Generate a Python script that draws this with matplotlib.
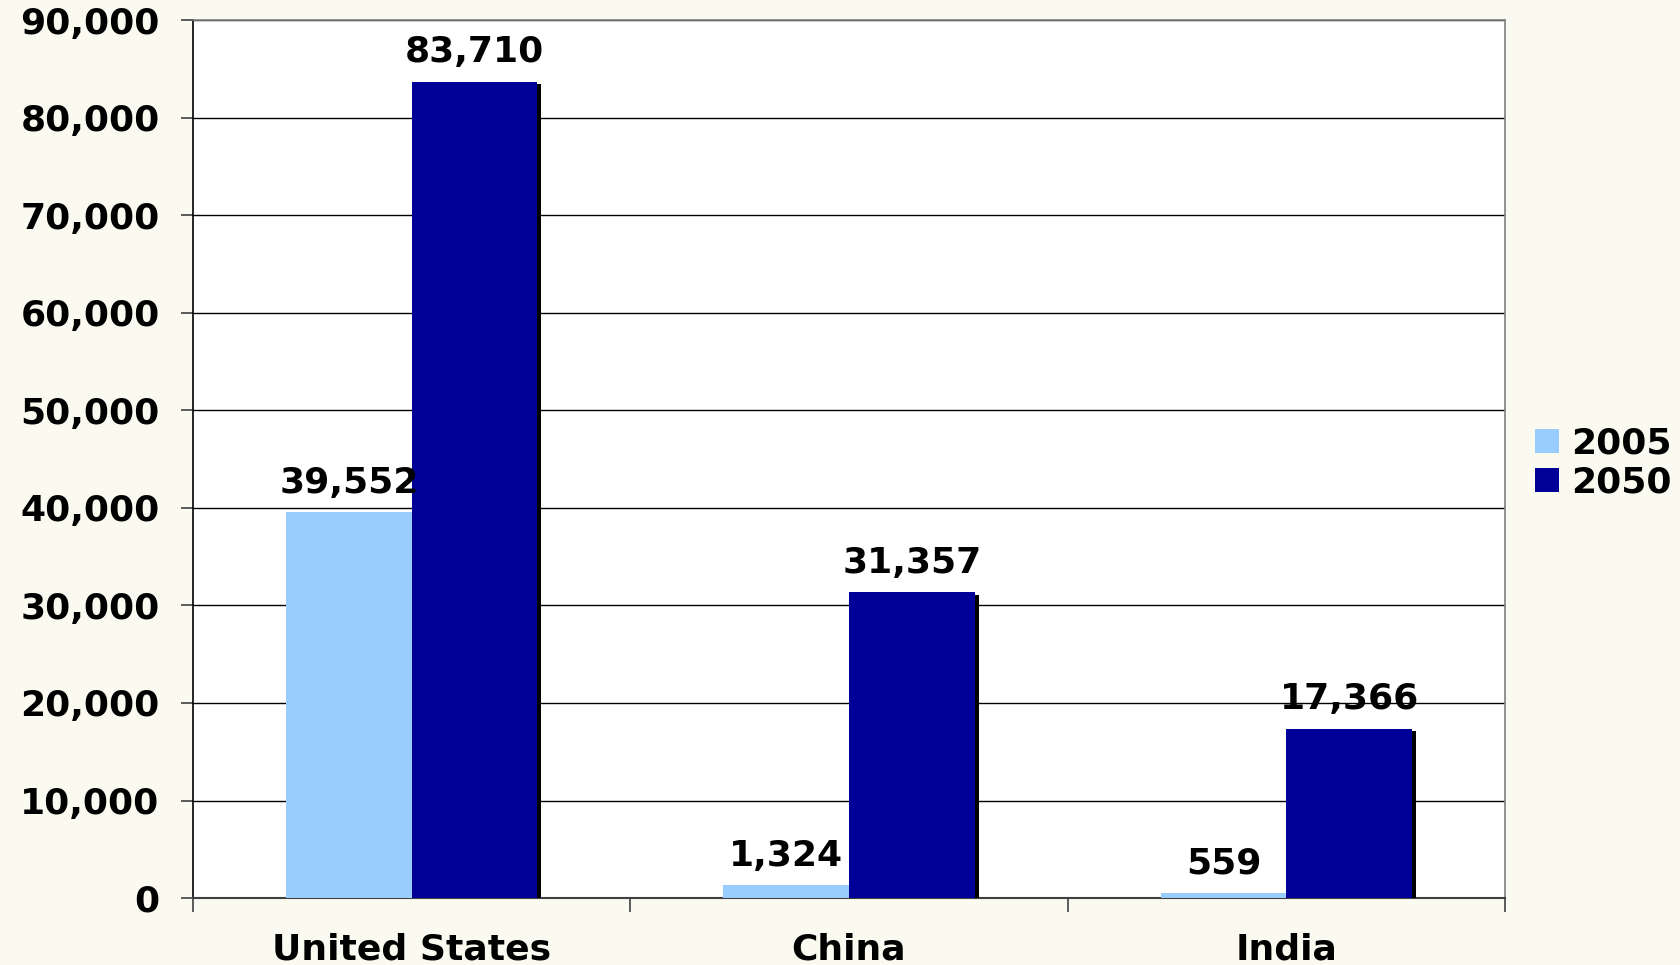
import matplotlib
matplotlib.use("Agg")
import matplotlib.pyplot as plt
import matplotlib.patheffects as pe
from matplotlib.patches import Patch
import numpy as np

countries = ["United States", "China", "India"]
years = ["2005", "2050"]
values_2005 = [39552, 1324, 559]
values_2050 = [83710, 31357, 17366]
y_ticks = [0, 10000, 20000, 30000, 40000, 50000, 60000, 70000, 80000, 90000]

light = "#99CCFF"
dark = "#000099"
bg = "#FAFAF0"
fs = 26

plt.rcParams["font.family"] = "DejaVu Sans"
plt.rcParams["font.weight"] = "bold"

fig = plt.figure(figsize=(16.81, 9.65), dpi=100, facecolor=bg)
ax = fig.add_axes([0.1148, 0.0694, 0.7805, 0.9095])
ax.set_facecolor("white")

x = np.arange(len(countries))
w = 0.287
shadow = [pe.SimplePatchShadow(offset=(3, -2), shadow_rgbFace="black", alpha=1.0), pe.Normal()]

b1 = ax.bar(x - w / 2, values_2005, w, color=light, zorder=3)
b2 = ax.bar(x + w / 2, values_2050, w, color=dark, zorder=3, path_effects=shadow)

for bars, vals in ((b1, values_2005), (b2, values_2050)):
    for rect, v in zip(bars, vals):
        ax.annotate(f"{v:,}", (rect.get_x() + rect.get_width() / 2, v),
                    xytext=(0, 9), textcoords="offset points",
                    ha="center", va="bottom", fontsize=fs, fontweight="bold",
                    color="black", zorder=5)

ax.set_xlim(-0.5, 2.5)
ax.set_ylim(0, 90000)
ax.set_yticks(y_ticks)
ax.set_yticklabels([f"{t:,}" for t in y_ticks], fontsize=fs, fontweight="bold")
ax.yaxis.grid(True, color="black", linewidth=1.0, zorder=1)
ax.set_axisbelow(True)

# category labels centred between boundary ticks
ax.set_xticks(x)
ax.set_xticklabels(countries, fontsize=fs, fontweight="bold")
ax.tick_params(axis="x", which="major", length=0, pad=25)
ax.set_xticks([-0.5, 0.5, 1.5, 2.5], minor=True)
ax.tick_params(axis="x", which="minor", length=10, color="#404040", width=1.2)
ax.tick_params(axis="y", length=9, color="#404040", width=1.2, pad=15)

ax.spines["left"].set_color("black")
ax.spines["left"].set_linewidth(1.2)
ax.spines["bottom"].set_color("#404040")
ax.spines["bottom"].set_linewidth(1.5)
for s in ("top", "right"):
    ax.spines[s].set_color("#808080")
    ax.spines[s].set_linewidth(1.2)

handles = [Patch(facecolor=light), Patch(facecolor=dark)]
fig.legend(handles=handles, labels=years, loc="center left",
           bbox_to_anchor=(1521 / 1681, (965 - 463) / 965),
           frameon=False, handlelength=0.65, handleheight=0.65,
           handletextpad=0.35, labelspacing=0.15, borderaxespad=0,
           prop={"weight": "bold", "size": fs})

fig.savefig("out.png", dpi=100, facecolor=bg)
